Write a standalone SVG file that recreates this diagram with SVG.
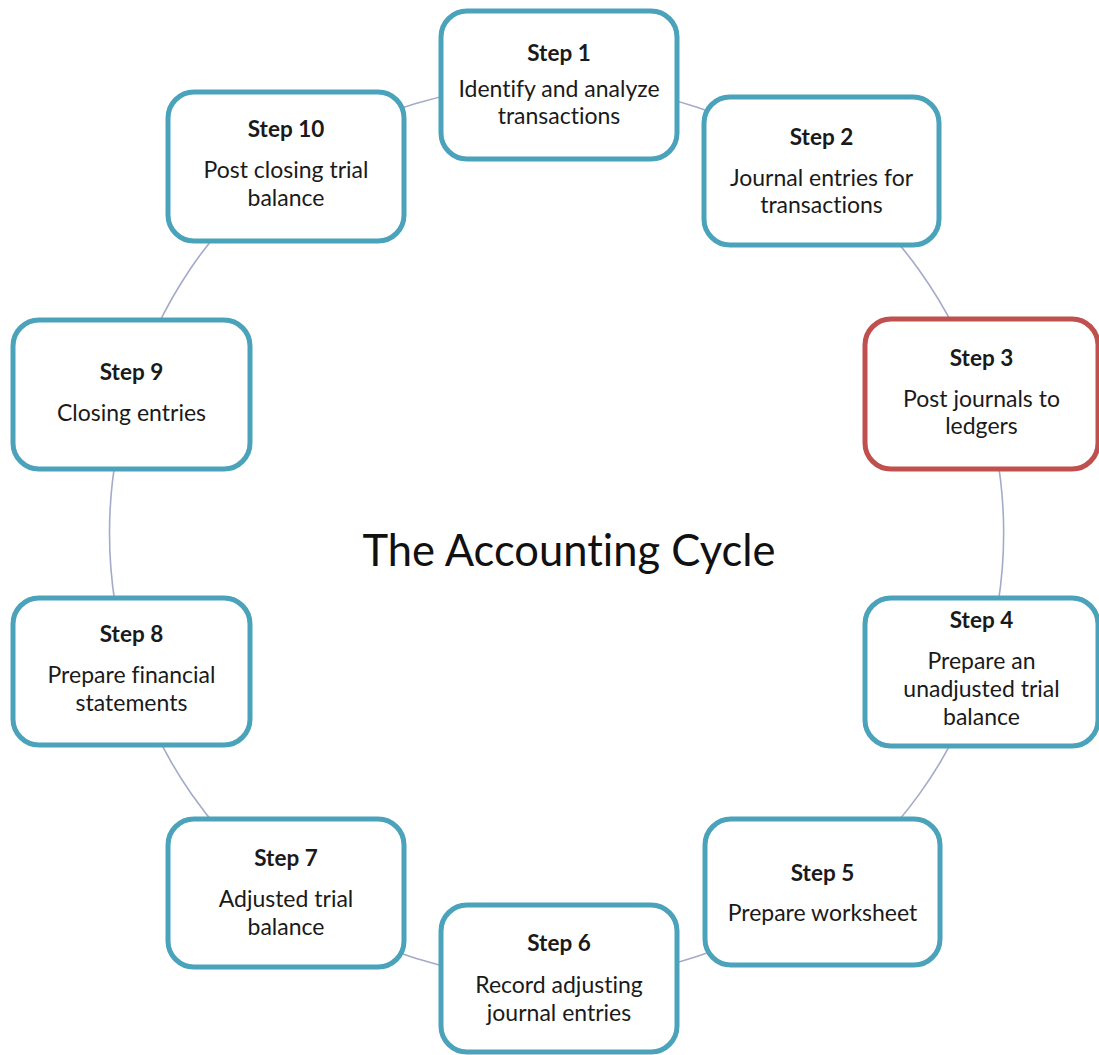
<svg xmlns="http://www.w3.org/2000/svg" width="1099" height="1055" viewBox="0 0 1099 1055">
<style>
.box{fill:#ffffff;stroke:#4aa3bb;stroke-width:5}
.red{stroke:#c0504d}
.conn{fill:none;stroke:#a3abc8;stroke-width:1.6}
text{font-family:Lato,"Open Sans","Liberation Sans",sans-serif;fill:#1a1a1a;text-anchor:middle;font-variant-ligatures:none}
.h{font-weight:bold;font-size:22.5px}
.t{font-size:23px}
.title{font-size:43.5px;fill:#111}
</style>
<rect width="1099" height="1055" fill="#ffffff"/>
<g id="connectors">
<path class="conn" d="M559,85 A447,447 0 0 1 821.5,171"/>
<path class="conn" d="M821.5,171 A447,447 0 0 1 981.5,394"/>
<path class="conn" d="M981.5,394 A447,447 0 0 1 981.5,672"/>
<path class="conn" d="M981.5,672 A447,447 0 0 1 822.5,892"/>
<path class="conn" d="M822.5,892 A447,447 0 0 1 559,978.5"/>
<path class="conn" d="M559,978.5 A447,447 0 0 1 286,893"/>
<path class="conn" d="M286,893 A447,447 0 0 1 131.5,671.5"/>
<path class="conn" d="M131.5,671.5 A447,447 0 0 1 131.5,394.5"/>
<path class="conn" d="M131.5,394.5 A447,447 0 0 1 286,166.5"/>
<path class="conn" d="M286,166.5 A447,447 0 0 1 559,85"/>
</g>
<g id="step1"><rect class="box" x="441" y="11" width="236" height="148" rx="26"/>
<text class="h" x="559" y="61">Step 1</text>
<text class="t" x="559" y="97">Identify and analyze</text>
<text class="t" x="559" y="124">transactions</text></g>
<g id="step2"><rect class="box" x="704" y="97" width="235" height="148" rx="26"/>
<text class="h" x="821.5" y="145">Step 2</text>
<text class="t" x="821.5" y="186">Journal entries for</text>
<text class="t" x="821.5" y="213">transactions</text></g>
<g id="step3"><rect class="box red" x="865" y="319" width="233" height="150" rx="26"/>
<text class="h" x="981.5" y="366">Step 3</text>
<text class="t" x="981.5" y="407">Post journals to</text>
<text class="t" x="981.5" y="434">ledgers</text></g>
<g id="step4"><rect class="box" x="865" y="598" width="233" height="148" rx="26"/>
<text class="h" x="981.5" y="628">Step 4</text>
<text class="t" x="981.5" y="669">Prepare an</text>
<text class="t" x="981.5" y="697">unadjusted trial</text>
<text class="t" x="981.5" y="725">balance</text></g>
<g id="step5"><rect class="box" x="705" y="819" width="235" height="146" rx="26"/>
<text class="h" x="822.5" y="881">Step 5</text>
<text class="t" x="822.5" y="921">Prepare worksheet</text></g>
<g id="step6"><rect class="box" x="441" y="905" width="236" height="147" rx="26"/>
<text class="h" x="559" y="951">Step 6</text>
<text class="t" x="559" y="993">Record adjusting</text>
<text class="t" x="559" y="1021">journal entries</text></g>
<g id="step7"><rect class="box" x="168" y="819" width="236" height="148" rx="26"/>
<text class="h" x="286" y="866">Step 7</text>
<text class="t" x="286" y="907">Adjusted trial</text>
<text class="t" x="286" y="935">balance</text></g>
<g id="step8"><rect class="box" x="13" y="598" width="237" height="147" rx="26"/>
<text class="h" x="131.5" y="642">Step 8</text>
<text class="t" x="131.5" y="683">Prepare financial</text>
<text class="t" x="131.5" y="711">statements</text></g>
<g id="step9"><rect class="box" x="13" y="320" width="237" height="149" rx="26"/>
<text class="h" x="131.5" y="380">Step 9</text>
<text class="t" x="131.5" y="421">Closing entries</text></g>
<g id="step10"><rect class="box" x="168" y="92" width="236" height="149" rx="26"/>
<text class="h" x="286" y="137">Step 10</text>
<text class="t" x="286" y="178">Post closing trial</text>
<text class="t" x="286" y="206">balance</text></g>
<text class="title" x="569" y="566">The Accounting Cycle</text>
</svg>
